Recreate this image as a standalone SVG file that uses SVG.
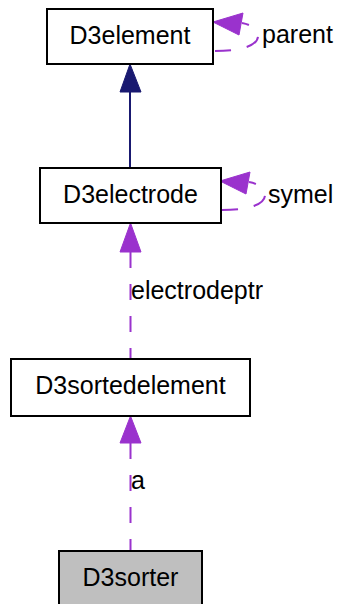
<svg xmlns="http://www.w3.org/2000/svg" width="342" height="604" viewBox="0 0 342 604">
  <style>
    .box { fill: #ffffff; stroke: #000000; stroke-width: 2; }
    .box.focus { fill: #bfbfbf; }
    .lbl { font-family: "Liberation Sans", Arial, sans-serif; font-size: 25px; fill: #000000; }
    .mid { text-anchor: middle; }
    .use { fill: none; stroke: #9a32cd; stroke-width: 2; stroke-dasharray: 16 16; }
    .useHead { fill: #9a32cd; stroke: #9a32cd; stroke-width: 1; }
    .inh { fill: none; stroke: #191970; stroke-width: 2; }
    .inhHead { fill: #191970; stroke: #191970; stroke-width: 1; }
  </style>
  <rect width="342" height="604" fill="#ffffff"/>

  <g id="connectors">
    <!-- D3electrode inherits D3element -->
    <line class="inh" x1="130" y1="168" x2="130" y2="92"/>
    <polygon class="inhHead" points="130,64 120,92 141,92"/>

    <!-- parent: D3element self reference -->
    <path class="use" d="M 215,51 C 240,51 258,46 258,36 C 258,29 252,25 242,23"/>
    <polygon class="useHead" points="213,22 243,13 239,35"/>

    <!-- symel: D3electrode self reference -->
    <path class="use" d="M 222,210 C 247,210 265,205 265,195 C 265,188 259,184 249,182"/>
    <polygon class="useHead" points="220,181 250,172 246,194"/>

    <!-- electrodeptr -->
    <line class="use" x1="130.5" y1="252" x2="130.5" y2="359"/>
    <polygon class="useHead" points="130.5,223 120,252 141,252"/>

    <!-- a -->
    <line class="use" x1="130.5" y1="443" x2="130.5" y2="551"/>
    <polygon class="useHead" points="130.5,416 120,443 141,443"/>

    <text class="lbl" x="262" y="43">parent</text>
    <text class="lbl" x="268" y="203">symel</text>
    <text class="lbl" x="131" y="299">electrodeptr</text>
    <text class="lbl" x="131" y="489">a</text>
  </g>

  <g id="D3element">
    <rect class="box" x="47" y="9" width="166" height="55"/>
    <text class="lbl mid" x="130" y="44">D3element</text>
  </g>

  <g id="D3electrode">
    <rect class="box" x="40" y="168" width="181" height="55"/>
    <text class="lbl mid" x="130.5" y="203">D3electrode</text>
  </g>

  <g id="D3sortedelement">
    <rect class="box" x="11" y="359" width="239" height="57"/>
    <text class="lbl mid" x="130.5" y="394">D3sortedelement</text>
  </g>

  <g id="D3sorter">
    <rect class="box focus" x="59" y="551" width="143" height="60"/>
    <text class="lbl mid" x="130.5" y="586">D3sorter</text>
  </g>
</svg>
